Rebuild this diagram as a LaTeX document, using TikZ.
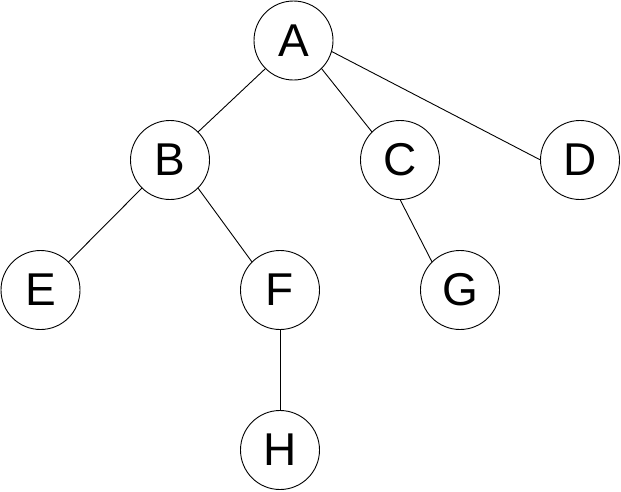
\documentclass[tikz,border=0pt]{standalone}
\usepackage{fontspec}
\setmainfont{Liberation Sans}
\begin{document}
\begin{tikzpicture}[x=1pt,y=-1pt,
  treenode/.style={circle,draw=black,line width=0.9pt,minimum size=79pt,inner sep=0pt,outer sep=0pt,font=\fontsize{46}{46}\selectfont},
  edge/.style={draw=black,line width=0.9pt}]
\useasboundingbox[fill=white] (0,0) rectangle (621,491);
\node[treenode] (A) at (293.5,40.5) {A};
\node[treenode] (B) at (170,160) {B};
\node[treenode] (C) at (400,160) {C};
\node[treenode] (D) at (580,160) {D};
\node[treenode] (E) at (40.5,290) {E};
\node[treenode] (F) at (280,290) {F};
\node[treenode] (G) at (460,290) {G};
\node[treenode] (H) at (280,450) {H};
\draw[edge] (A.-135) -- (B.45);
\draw[edge] (A.-45) -- (C.135);
\draw[edge] (A.-16) -- (D.west);
\draw[edge] (B.-135) -- (E.45);
\draw[edge] (B.-45) -- (F.135);
\draw[edge] (C.south) -- (G.135);
\draw[edge] (F.south) -- (H.north);
\end{tikzpicture}
\end{document}
